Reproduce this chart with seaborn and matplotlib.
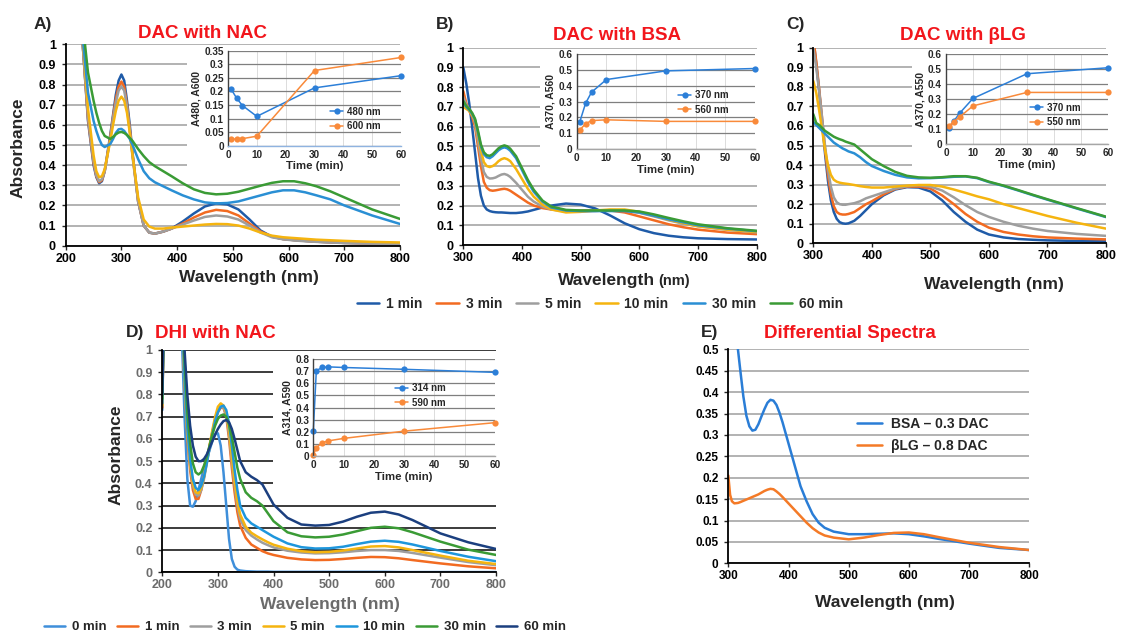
import numpy as np
import matplotlib.pyplot as plt
import seaborn as sns
from matplotlib.patches import Rectangle
from matplotlib.ticker import FuncFormatter

sns.set_style('white')
plt.rcParams['font.family'] = ['Liberation Sans', 'DejaVu Sans']
plt.rcParams['font.weight'] = 'bold'
plt.rcParams['axes.labelweight'] = 'bold'

# ---------------- data ----------------
times6 = ['1 min', '3 min', '5 min', '10 min', '30 min', '60 min']
times7 = ['0 min'] + times6
cols6 = ['#1f5ba8', '#f26b21', '#9e9e9e', '#f5b40f', '#2a8fd4', '#3a9b35']
cols7 = ['#3f8fda', '#f26b21', '#9e9e9e', '#f5b40f', '#1e96dc', '#3a9b35', '#1b3f7f']
ins_blue, ins_orange = '#2c7fd8', '#f98a3a'

# A) DAC with NAC
wl_a = [225, 230, 240, 250, 255, 260, 265, 270, 280, 285, 290, 295, 300, 305, 310, 315, 320, 330, 340, 350,
        360, 375, 390, 410, 430, 450, 470, 490, 510, 530, 550, 570, 590, 610, 630, 650, 675, 700, 750, 800]
a_1min = [1.3, 1.02, 0.62, 0.40, 0.34, 0.31, 0.32, 0.37, 0.55, 0.65, 0.75, 0.82, 0.85, 0.82, 0.72, 0.6, 0.46, 0.22, 0.1, 0.065,
          0.06, 0.07, 0.085, 0.12, 0.16, 0.195, 0.21, 0.205, 0.18, 0.13, 0.075, 0.045, 0.033, 0.028, 0.024, 0.02, 0.017, 0.014, 0.011, 0.01]
a_3min = [1.3, 1.02, 0.63, 0.41, 0.345, 0.315, 0.325, 0.37, 0.54, 0.64, 0.73, 0.79, 0.815, 0.79, 0.7, 0.58, 0.45, 0.22, 0.1, 0.065,
          0.06, 0.07, 0.085, 0.11, 0.14, 0.165, 0.178, 0.172, 0.15, 0.11, 0.07, 0.045, 0.033, 0.028, 0.024, 0.02, 0.017, 0.014, 0.011, 0.01]
a_5min = [1.3, 1.02, 0.64, 0.42, 0.35, 0.32, 0.33, 0.37, 0.53, 0.63, 0.71, 0.77, 0.79, 0.77, 0.69, 0.57, 0.44, 0.22, 0.1, 0.065,
          0.06, 0.07, 0.085, 0.105, 0.125, 0.143, 0.15, 0.145, 0.13, 0.1, 0.065, 0.042, 0.032, 0.026, 0.022, 0.019, 0.016, 0.013, 0.01, 0.009]
a_10min = [1.3, 1.05, 0.68, 0.45, 0.37, 0.34, 0.345, 0.38, 0.52, 0.6, 0.67, 0.72, 0.74, 0.72, 0.66, 0.56, 0.45, 0.24, 0.13, 0.095,
           0.085, 0.085, 0.09, 0.095, 0.1, 0.105, 0.108, 0.107, 0.1, 0.085, 0.065, 0.05, 0.042, 0.038, 0.034, 0.03, 0.027, 0.024, 0.019, 0.016]
a_30min = [1.3, 1.05, 0.76, 0.62, 0.57, 0.53, 0.5, 0.49, 0.505, 0.53, 0.56, 0.578, 0.58, 0.57, 0.55, 0.53, 0.5, 0.43, 0.37, 0.335,
           0.315, 0.295, 0.275, 0.25, 0.23, 0.215, 0.21, 0.212, 0.22, 0.235, 0.25, 0.265, 0.275, 0.275, 0.265, 0.25, 0.23, 0.2, 0.15, 0.108]
a_60min = [1.3, 1.12, 0.86, 0.72, 0.66, 0.61, 0.57, 0.545, 0.53, 0.54, 0.553, 0.562, 0.565, 0.56, 0.55, 0.535, 0.52, 0.48, 0.445, 0.415,
           0.395, 0.37, 0.345, 0.31, 0.28, 0.262, 0.255, 0.258, 0.268, 0.283, 0.298, 0.312, 0.32, 0.32, 0.31, 0.295, 0.27, 0.24, 0.18, 0.133]
t_a = [1, 3, 5, 10, 30, 60]
a480 = [0.21, 0.175, 0.148, 0.108, 0.213, 0.258]
a600 = [0.025, 0.024, 0.026, 0.035, 0.277, 0.325]

# B) DAC with BSA
wl_b = [300, 305, 310, 315, 320, 325, 330, 335, 340, 345, 350, 355, 360, 365, 370, 375, 380, 390,
        400, 410, 420, 435, 450, 475, 500, 525, 550, 575, 600, 625, 650, 675, 700, 750, 800]
b_1min = [0.9, 0.82, 0.72, 0.6, 0.47, 0.34, 0.25, 0.2, 0.18, 0.172, 0.168, 0.166, 0.165, 0.165, 0.164, 0.163, 0.162, 0.162,
          0.165, 0.17, 0.178, 0.19, 0.2, 0.21, 0.205, 0.185, 0.15, 0.11, 0.08, 0.06, 0.047, 0.039, 0.034, 0.03, 0.028]
b_3min = [0.78, 0.72, 0.68, 0.65, 0.6, 0.5, 0.4, 0.32, 0.29, 0.278, 0.275, 0.277, 0.28, 0.283, 0.285, 0.282, 0.275, 0.255,
          0.235, 0.215, 0.2, 0.187, 0.18, 0.175, 0.175, 0.175, 0.175, 0.165, 0.145, 0.125, 0.105, 0.09, 0.078, 0.063, 0.055]
b_5min = [0.75, 0.71, 0.69, 0.66, 0.62, 0.53, 0.44, 0.37, 0.345, 0.337, 0.338, 0.342, 0.35, 0.357, 0.36, 0.355, 0.345, 0.315,
          0.28, 0.245, 0.22, 0.195, 0.18, 0.17, 0.17, 0.172, 0.177, 0.175, 0.163, 0.145, 0.125, 0.108, 0.095, 0.077, 0.064]
b_10min = [0.7, 0.69, 0.68, 0.66, 0.63, 0.56, 0.48, 0.42, 0.4, 0.395, 0.4, 0.41, 0.425, 0.435, 0.44, 0.435, 0.425, 0.385,
           0.335, 0.285, 0.245, 0.205, 0.18, 0.165, 0.168, 0.175, 0.18, 0.18, 0.168, 0.148, 0.128, 0.11, 0.095, 0.078, 0.066]
b_30min = [0.72, 0.7, 0.685, 0.665, 0.635, 0.57, 0.5, 0.46, 0.445, 0.44, 0.45, 0.465, 0.48, 0.49, 0.495, 0.49, 0.478, 0.44,
           0.38, 0.32, 0.27, 0.22, 0.19, 0.175, 0.172, 0.172, 0.172, 0.172, 0.165, 0.148, 0.13, 0.115, 0.1, 0.083, 0.07]
b_60min = [0.73, 0.705, 0.69, 0.67, 0.64, 0.58, 0.51, 0.47, 0.455, 0.452, 0.46, 0.475, 0.49, 0.5, 0.505, 0.5, 0.488, 0.45,
           0.39, 0.33, 0.28, 0.225, 0.195, 0.178, 0.175, 0.175, 0.175, 0.175, 0.17, 0.155, 0.137, 0.12, 0.105, 0.085, 0.072]
t_b = [1, 3, 5, 10, 30, 60]
b370 = [0.17, 0.29, 0.36, 0.44, 0.495, 0.51]
b560 = [0.12, 0.16, 0.18, 0.185, 0.175, 0.175]

# C) DAC with bLG
wl_c = [300, 305, 310, 315, 320, 325, 330, 335, 340, 345, 350, 355, 360, 370, 380, 390, 400, 420, 440, 460,
        480, 500, 520, 540, 560, 580, 600, 625, 650, 675, 700, 750, 800]
c_1min = [1.05, 0.92, 0.78, 0.62, 0.46, 0.32, 0.22, 0.16, 0.125, 0.108, 0.102, 0.1, 0.102, 0.115, 0.14, 0.17, 0.2, 0.245, 0.275, 0.287,
          0.285, 0.265, 0.22, 0.16, 0.11, 0.07, 0.045, 0.03, 0.022, 0.018, 0.015, 0.012, 0.01]
c_3min = [1.05, 0.93, 0.79, 0.64, 0.48, 0.35, 0.25, 0.19, 0.16, 0.15, 0.147, 0.147, 0.15, 0.16, 0.18, 0.2, 0.215, 0.25, 0.278, 0.29,
          0.29, 0.28, 0.245, 0.2, 0.15, 0.11, 0.08, 0.058, 0.045, 0.036, 0.03, 0.024, 0.02]
c_5min = [1.0, 0.9, 0.78, 0.64, 0.5, 0.38, 0.29, 0.235, 0.21, 0.2, 0.197, 0.197, 0.2, 0.205, 0.215, 0.23, 0.24, 0.26, 0.28, 0.292,
          0.297, 0.29, 0.27, 0.235, 0.195, 0.16, 0.135, 0.11, 0.09, 0.075, 0.063, 0.048, 0.038]
c_10min = [0.83, 0.77, 0.68, 0.58, 0.48, 0.4, 0.35, 0.325, 0.315, 0.31, 0.307, 0.305, 0.303, 0.298, 0.292, 0.288, 0.285, 0.285, 0.29, 0.295,
           0.298, 0.298, 0.29, 0.275, 0.258, 0.24, 0.225, 0.2, 0.18, 0.16, 0.14, 0.105, 0.075]
c_30min = [0.62, 0.605, 0.59, 0.575, 0.56, 0.545, 0.53, 0.515, 0.505, 0.495, 0.485, 0.478, 0.47, 0.46, 0.44, 0.415, 0.395, 0.37, 0.35, 0.337,
           0.332, 0.333, 0.336, 0.34, 0.342, 0.333, 0.313, 0.293, 0.27, 0.246, 0.223, 0.178, 0.134]
c_60min = [0.66, 0.615, 0.605, 0.59, 0.575, 0.565, 0.555, 0.545, 0.538, 0.532, 0.527, 0.52, 0.515, 0.505, 0.48, 0.455, 0.43, 0.395, 0.365, 0.345,
           0.337, 0.335, 0.338, 0.343, 0.343, 0.335, 0.315, 0.295, 0.272, 0.248, 0.225, 0.18, 0.136]
t_c = [1, 3, 5, 10, 30, 60]
c370 = [0.105, 0.155, 0.205, 0.305, 0.47, 0.51]
c550 = [0.12, 0.15, 0.18, 0.255, 0.345, 0.345]

# D) DHI with NAC
wl_d = [200, 203, 206, 232, 236, 240, 245, 250, 255, 260, 265, 270, 275, 280, 285, 290, 295, 300, 305, 310, 315, 320,
        325, 330, 335, 340, 350, 360, 370, 380, 390, 400, 425, 450, 475, 500, 525, 550, 575, 600, 625, 650, 700, 750, 800]
d_0min = [0.73, 1.2, 1.5, 1.4, 1.0, 0.7, 0.42, 0.3, 0.295, 0.32, 0.37, 0.42, 0.47, 0.51, 0.55, 0.59, 0.62, 0.625, 0.57, 0.45, 0.3, 0.15,
          0.06, 0.025, 0.012, 0.008, 0.005, 0.004, 0.003, 0.003, 0.003, 0.002, 0.002, 0.002, 0.002, 0.002, 0.002, 0.002, 0.002, 0.002,
          0.001, 0.001, 0.001, 0.001, 0.001]
d_1min = [0.74, 1.2, 1.5, 1.4, 1.1, 0.85, 0.6, 0.46, 0.37, 0.33, 0.33, 0.37, 0.43, 0.5, 0.57, 0.63, 0.68, 0.72, 0.74, 0.74, 0.7, 0.6,
          0.47, 0.36, 0.27, 0.21, 0.155, 0.125, 0.11, 0.095, 0.085, 0.078, 0.065, 0.058, 0.055, 0.056, 0.06, 0.065, 0.069, 0.068,
          0.063, 0.055, 0.04, 0.027, 0.018]
d_3min = [0.75, 1.2, 1.5, 1.4, 1.1, 0.86, 0.62, 0.48, 0.39, 0.35, 0.345, 0.37, 0.42, 0.49, 0.56, 0.63, 0.69, 0.73, 0.745, 0.74, 0.71, 0.62,
          0.5, 0.39, 0.3, 0.24, 0.19, 0.165, 0.148, 0.133, 0.122, 0.112, 0.097, 0.089, 0.085, 0.086, 0.09, 0.096, 0.1, 0.1,
          0.096, 0.087, 0.066, 0.046, 0.032]
d_5min = [0.75, 1.2, 1.5, 1.4, 1.1, 0.87, 0.63, 0.49, 0.4, 0.36, 0.355, 0.38, 0.43, 0.5, 0.57, 0.64, 0.7, 0.745, 0.76, 0.75, 0.72, 0.64,
          0.52, 0.41, 0.32, 0.26, 0.205, 0.178, 0.162, 0.148, 0.135, 0.124, 0.106, 0.095, 0.09, 0.092, 0.098, 0.107, 0.116, 0.118,
          0.112, 0.1, 0.075, 0.052, 0.037]
d_10min = [0.76, 1.2, 1.5, 1.4, 1.12, 0.88, 0.65, 0.51, 0.42, 0.38, 0.37, 0.39, 0.43, 0.49, 0.56, 0.62, 0.68, 0.72, 0.745, 0.75, 0.73, 0.67,
           0.57, 0.46, 0.37, 0.3, 0.245, 0.22, 0.205, 0.19, 0.175, 0.16, 0.13, 0.113, 0.107, 0.108, 0.115, 0.127, 0.138, 0.142,
           0.137, 0.125, 0.096, 0.07, 0.05]
d_30min = [0.78, 1.2, 1.5, 1.4, 1.15, 0.95, 0.72, 0.58, 0.49, 0.45, 0.44, 0.45, 0.48, 0.52, 0.57, 0.62, 0.66, 0.69, 0.705, 0.71, 0.7, 0.665,
           0.61, 0.54, 0.47, 0.42, 0.36, 0.335, 0.32, 0.3, 0.265, 0.23, 0.18, 0.162, 0.157, 0.16, 0.17, 0.185, 0.2, 0.205,
           0.198, 0.18, 0.138, 0.102, 0.078]
d_60min = [0.8, 1.2, 1.5, 1.4, 1.2, 1.0, 0.8, 0.66, 0.57, 0.52, 0.5, 0.5, 0.51, 0.53, 0.56, 0.59, 0.62, 0.645, 0.665, 0.68, 0.685, 0.675,
           0.645, 0.6, 0.55, 0.5, 0.45, 0.43, 0.415, 0.395, 0.35, 0.305, 0.245, 0.215, 0.21, 0.213, 0.228, 0.25, 0.268, 0.273,
           0.26, 0.235, 0.175, 0.135, 0.105]
t_d = [0, 1, 3, 5, 10, 30, 60]
d314 = [0.205, 0.705, 0.73, 0.735, 0.73, 0.715, 0.69]
d590 = [0.005, 0.07, 0.11, 0.125, 0.145, 0.205, 0.275]

# E) Differential spectra
wl_e = [300, 303, 306, 310, 316, 320, 325, 330, 335, 340, 345, 350, 355, 360, 365, 370, 375, 380, 385, 390,
        400, 410, 420, 430, 440, 450, 460, 475, 500, 525, 550, 575, 600, 625, 650, 700, 750, 800]
e_bsa = [0.9, 0.8, 0.7, 0.6, 0.5, 0.45, 0.39, 0.345, 0.32, 0.31, 0.312, 0.325, 0.343, 0.36, 0.375, 0.382, 0.38, 0.37, 0.352, 0.33,
         0.28, 0.23, 0.18, 0.145, 0.115, 0.095, 0.083, 0.074, 0.068, 0.068, 0.069, 0.07, 0.068, 0.063, 0.057, 0.046, 0.036, 0.031]
e_blg = [0.205, 0.16, 0.145, 0.14, 0.141, 0.143, 0.146, 0.149, 0.152, 0.155, 0.158, 0.161, 0.165, 0.169, 0.172, 0.174, 0.173, 0.168, 0.162, 0.155,
         0.14, 0.125, 0.11, 0.095, 0.082, 0.072, 0.065, 0.06, 0.056, 0.06, 0.066, 0.071, 0.072, 0.068, 0.061, 0.048, 0.038, 0.031]

# ---------------- layout helpers ----------------
W, H = 1123, 637
fig = plt.figure(figsize=(W / 100, H / 100), dpi=100)
RED = '#f2161c'
GREY_TXT = '#6b6b6b'
gfmt = FuncFormatter(lambda v, p: f'{v:g}')


def box(x0, y0, x1, y1):
    return [x0 / W, 1 - y1 / H, (x1 - x0) / W, (y1 - y0) / H]


def put(x, y, s, **kw):
    fig.text(x / W, 1 - y / H, s, ha='center', va='center', **kw)


def mask(x0, y0, x1, y1):
    # white patch hiding the main grid behind an inset, as in the original
    fig.add_artist(Rectangle((x0 / W, 1 - y1 / H), (x1 - x0) / W, (y1 - y0) / H,
                             transform=fig.transFigure, fc='white', ec='none', zorder=1))


def main_axes(rect, xlim, ylim, ystep, grid_col='#a6a6a6', lab_col='black', fs=9):
    ax = fig.add_axes(rect)
    ax.set_xlim(*xlim)
    ax.set_ylim(*ylim)
    ax.set_xticks(np.arange(xlim[0], xlim[1] + 1, 100))
    ax.set_yticks(np.round(np.arange(ylim[0], ylim[1] + ystep / 2, ystep), 3))
    ax.yaxis.set_major_formatter(gfmt)
    ax.grid(axis='y', color=grid_col, lw=1.2)
    ax.grid(axis='x', visible=False)
    ax.spines[['top', 'right']].set_visible(False)
    for s in ['left', 'bottom']:
        ax.spines[s].set_color('black')
        ax.spines[s].set_linewidth(1.3)
    ax.tick_params(axis='both', labelsize=fs, labelcolor=lab_col, length=3, width=1,
                   bottom=True, left=True, direction='out')
    ax.tick_params(axis='y', pad=4)
    ax.tick_params(axis='x', pad=2)
    return ax


def spectra(ax, wl, series, colors):
    for ys, c in zip(series, colors):
        sns.lineplot(x=wl, y=ys, ax=ax, color=c, linewidth=1.8, legend=False)
    ax.set_xlabel('')
    ax.set_ylabel('')


def inset(rect, t, s1, s2, labels, ymax, ystep, ylabel, leg_xy, bottom_col='#a6a6a6'):
    ax = fig.add_axes(rect)
    ax.set_zorder(3)
    sns.lineplot(x=t, y=s1, ax=ax, color=ins_blue, marker='o', markersize=4.5, markeredgewidth=0,
                 linewidth=1.1, clip_on=False, label=labels[0])
    sns.lineplot(x=t, y=s2, ax=ax, color=ins_orange, marker='o', markersize=4.5, markeredgewidth=0,
                 linewidth=1.1, clip_on=False, label=labels[1])
    ax.set_xlim(0, 60)
    ax.set_ylim(0, ymax)
    ax.set_xticks(range(0, 61, 10))
    ax.set_yticks(np.round(np.arange(0, ymax + ystep / 2, ystep), 3))
    ax.yaxis.set_major_formatter(gfmt)
    ax.grid(axis='y', color='#7f7f7f', lw=0.9)
    ax.grid(axis='x', color='#dcdcdc', lw=0.7)
    ax.spines[['top', 'right']].set_visible(False)
    ax.spines['left'].set_color('#404040')
    ax.spines['left'].set_linewidth(1)
    ax.spines['bottom'].set_color(bottom_col)
    ax.spines['bottom'].set_linewidth(1)
    ax.tick_params(axis='both', labelsize=7.2, length=0, pad=3)
    ax.set_ylabel(ylabel, fontsize=7.5, labelpad=2)
    ax.set_xlabel('Time (min)', fontsize=8.2, labelpad=1)
    ax.legend(loc='center left', bbox_to_anchor=(leg_xy[0] / W, 1 - leg_xy[1] / H),
              bbox_transform=fig.transFigure, frameon=False, fontsize=7, handlelength=1.35,
              handletextpad=0.4, labelspacing=0.45, borderpad=0, borderaxespad=0)
    return ax


# ---------------- panel A ----------------
ax_a = main_axes(box(65.7, 44.3, 400, 245.7), (200, 800), (0, 1), 0.1)
spectra(ax_a, wl_a, [a_1min, a_3min, a_5min, a_10min, a_30min, a_60min], cols6)
mask(187, 47, 405, 176)
inset(box(228, 50.7, 401, 145.7), t_a, a480, a600, ['480 nm', '600 nm'], 0.35, 0.05,
      'A480, A600', (330, 119), bottom_col='#8fb3e0')
put(43, 25, 'A)', fontsize=12.5)
put(202, 33, 'DAC with NAC', fontsize=13.5, color=RED)
put(18, 148, 'Absorbance', fontsize=12.5, rotation=90)
put(249, 277, 'Wavelength (nm)', fontsize=12.5)

# ---------------- panel B ----------------
ax_b = main_axes(box(463.3, 47.7, 756.7, 245), (300, 800), (0, 1), 0.1)
spectra(ax_b, wl_b, [b_1min, b_3min, b_5min, b_10min, b_30min, b_60min], cols6)
mask(540, 50, 762, 176)
inset(box(576.7, 54.3, 755, 149), t_b, b370, b560, ['370 nm', '560 nm'], 0.6, 0.1,
      'A370, A560', (678, 102.5))
put(445, 25, 'B)', fontsize=12.5)
put(617, 35, 'DAC with BSA', fontsize=13.5, color=RED)
fig.text(655 / W, 1 - 280 / H, 'Wavelength', fontsize=12.5, ha='right', va='center')
fig.text(658 / W, 1 - 281 / H, '(nm)', fontsize=10.5, ha='left', va='center')

# ---------------- panel C ----------------
ax_c = main_axes(box(813.3, 47.7, 1106, 243.3), (300, 800), (0, 1), 0.1)
spectra(ax_c, wl_c, [c_1min, c_3min, c_5min, c_10min, c_30min, c_60min], cols6)
mask(912, 50, 1123, 171)
inset(box(946, 54.3, 1108, 144), t_c, c370, c550, ['370 nm', '550 nm'], 0.6, 0.1,
      'A370, A550', (1030, 115))
put(795, 24, 'C)', fontsize=12.5)
put(963, 35, 'DAC with \u03b2LG', fontsize=13.5, color=RED)
put(994, 285, 'Wavelength (nm)', fontsize=12.5)

fig.legend(handles=ax_a.get_lines()[:6], labels=times6, loc='center',
           bbox_to_anchor=(600 / W, 1 - 304 / H), ncol=6, frameon=False, fontsize=10,
           handlelength=1.6, handletextpad=0.5, columnspacing=1.0, borderpad=0, borderaxespad=0)

# ---------------- panel D ----------------
ax_d = main_axes(box(162.3, 350, 496, 572.3), (200, 800), (0, 1), 0.1,
                 grid_col='#1a1a1a', lab_col=GREY_TXT)
spectra(ax_d, wl_d, [d_0min, d_1min, d_3min, d_5min, d_10min, d_30min, d_60min], cols7)
mask(273, 353, 502, 490)
inset(box(313.3, 359, 495, 456), t_d, d314, d590, ['314 nm', '590 nm'], 0.8, 0.1,
      'A314, A590', (395, 395.5))
put(135, 333, 'D)', fontsize=12.5)
put(215, 334, 'DHI with NAC', fontsize=13.5, color=RED)
put(116, 455, 'Absorbance', fontsize=12.5, rotation=90)
put(330, 605, 'Wavelength (nm)', fontsize=12.5, color=GREY_TXT)

fig.legend(handles=ax_d.get_lines()[:7], labels=times7, loc='center',
           bbox_to_anchor=(305 / W, 1 - 627 / H), ncol=7, frameon=False, fontsize=9.5,
           handlelength=1.6, handletextpad=0.5, columnspacing=0.8, borderpad=0, borderaxespad=0)

# ---------------- panel E ----------------
ax_e = main_axes(box(728.3, 349.3, 1029.3, 563.3), (300, 800), (0, 0.5), 0.05, fs=8.5)
spectra(ax_e, wl_e, [e_bsa, e_blg], ['#2a7dd6', '#f47a27'])
ax_e.legend(handles=ax_e.get_lines()[:2], labels=['BSA \u2013 0.3 DAC', '\u03b2LG \u2013 0.8 DAC'],
            loc='center left', bbox_to_anchor=(857 / W, 1 - 435 / H), bbox_transform=fig.transFigure,
            frameon=False, fontsize=10, handlelength=1.8, handletextpad=0.65, labelspacing=0.58,
            borderpad=0, borderaxespad=0)
put(710, 332, 'E)', fontsize=12.5)
put(850, 333, 'Differential Spectra', fontsize=13.5, color=RED)
put(885, 603, 'Wavelength (nm)', fontsize=12.5)

fig.savefig('out.png', dpi=100)
